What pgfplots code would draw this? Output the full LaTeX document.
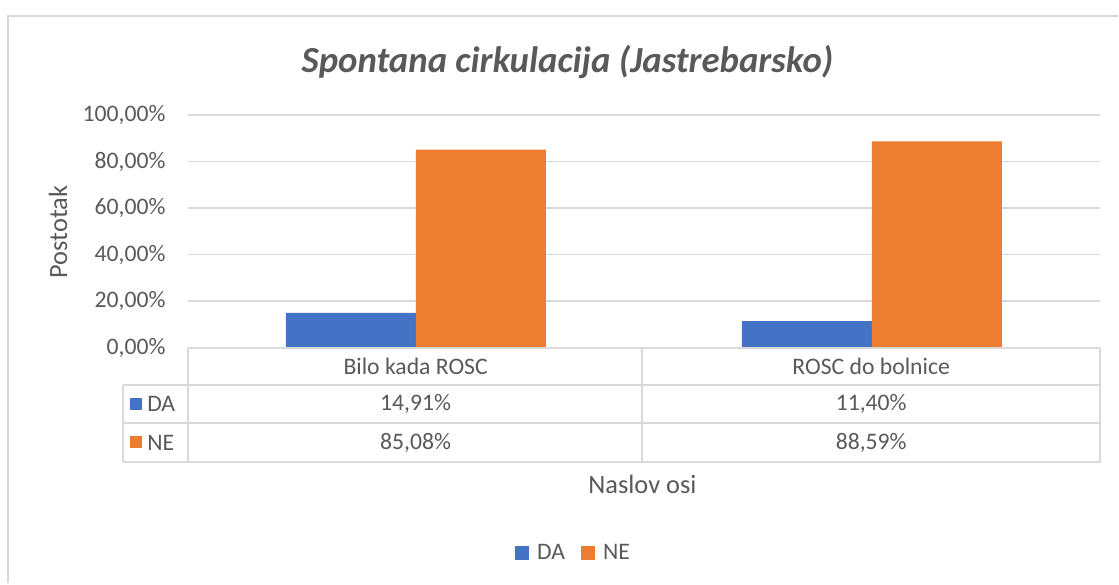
\documentclass[border=0pt]{standalone}
\usepackage{fontspec}
\setmainfont{Carlito}
\usepackage{pgfplots}
\pgfplotsset{compat=1.18}
\definecolor{xblue}{RGB}{68,114,196}
\definecolor{xorange}{RGB}{237,125,49}
\definecolor{xtext}{RGB}{89,89,89}
\definecolor{xgrid}{RGB}{217,217,217}
\newcommand{\ninept}{\fontsize{11.85}{14}\selectfont}
\begin{document}
\begin{tikzpicture}
\begin{axis}[
    at={(0,0)}, anchor=south west,
    scale only axis,
    width=456.5pt, height=116.5pt,
    ybar, clip=false,
    xmin=-0.5, xmax=1.5,
    ymin=0, ymax=100,
    xtick=\empty,
    ytick={0,20,40,60,80,100},
    yticklabels={{0,00\%},{20,00\%},{40,00\%},{60,00\%},{80,00\%},{100,00\%}},
    /pgf/number format/assume math mode=true,
    major tick length=0pt,
    yticklabel style={font=\ninept, text=xtext, inner sep=0pt, anchor=east, xshift=-11pt},
    ymajorgrids, grid style={xgrid, line width=0.8pt},
    axis line style={draw=none},
    legend style={at={(0.424,-0.884)}, anchor=center, draw=none, fill=none,
        font=\ninept, text=xtext, legend columns=2,
        /tikz/every odd column/.append style={column sep=2pt},
        /tikz/every even column/.append style={column sep=6pt}},
    legend image code/.code={\fill[#1] (0pt,-3.5pt) rectangle (7pt,3.5pt);},
]
\addplot[fill=xblue, draw=none, bar width=0.285, bar shift=-0.1425] coordinates {(0,14.91) (1,11.40)};
\addplot[fill=xorange, draw=none, bar width=0.285, bar shift=0.1425] coordinates {(0,85.08) (1,88.59)};
\legend{DA, NE}
\end{axis}
\begin{scope}[x=0.5pt, y=-0.5pt, shift={(-94pt,174pt)}]
  \path (0,0) rectangle (1119,584);
  % chart frame
  \draw[xgrid, line width=1pt] (8,584) -- (8,16) -- (1119,16);
  % title and axis titles
  \node[text=xtext, font=\fontsize{18.4}{22}\selectfont\bfseries\itshape] at (568,62) {Spontana cirkulacija (Jastrebarsko)};
  \node[text=xtext, font=\fontsize{13.2}{16}\selectfont, rotate=90] at (58,232) {Postotak};
  \node[text=xtext, font=\fontsize{13.2}{16}\selectfont] at (643,485) {Naslov osi};
  % data table
  \begin{scope}[xgrid, line width=1pt]
    \draw (188,348) -- (1101,348);
    \draw (123,385) -- (1101,385);
    \draw (123,423) -- (1101,423);
    \draw (123,462) -- (1101,462);
    \draw (188,348) -- (188,462);
    \draw (643,348) -- (643,462);
    \draw (1101,348) -- (1101,462);
    \draw (123,385) -- (123,462);
  \end{scope}
  \begin{scope}[every node/.style={text=xtext, font=\ninept}]
    \node at (416,367) {Bilo kada ROSC};
    \node at (872,367) {ROSC do bolnice};
    \node at (416,404) {14,91\%};
    \node at (872,404) {11,40\%};
    \node at (416,443) {85,08\%};
    \node at (872,443) {88,59\%};
    \fill[xblue] (130,398) rectangle (142,410);
    \fill[xorange] (130,436) rectangle (142,448);
    \node[anchor=west, inner sep=0pt] at (147,404) {DA};
    \node[anchor=west, inner sep=0pt] at (147,443) {NE};
  \end{scope}
\end{scope}
\end{tikzpicture}
\end{document}
